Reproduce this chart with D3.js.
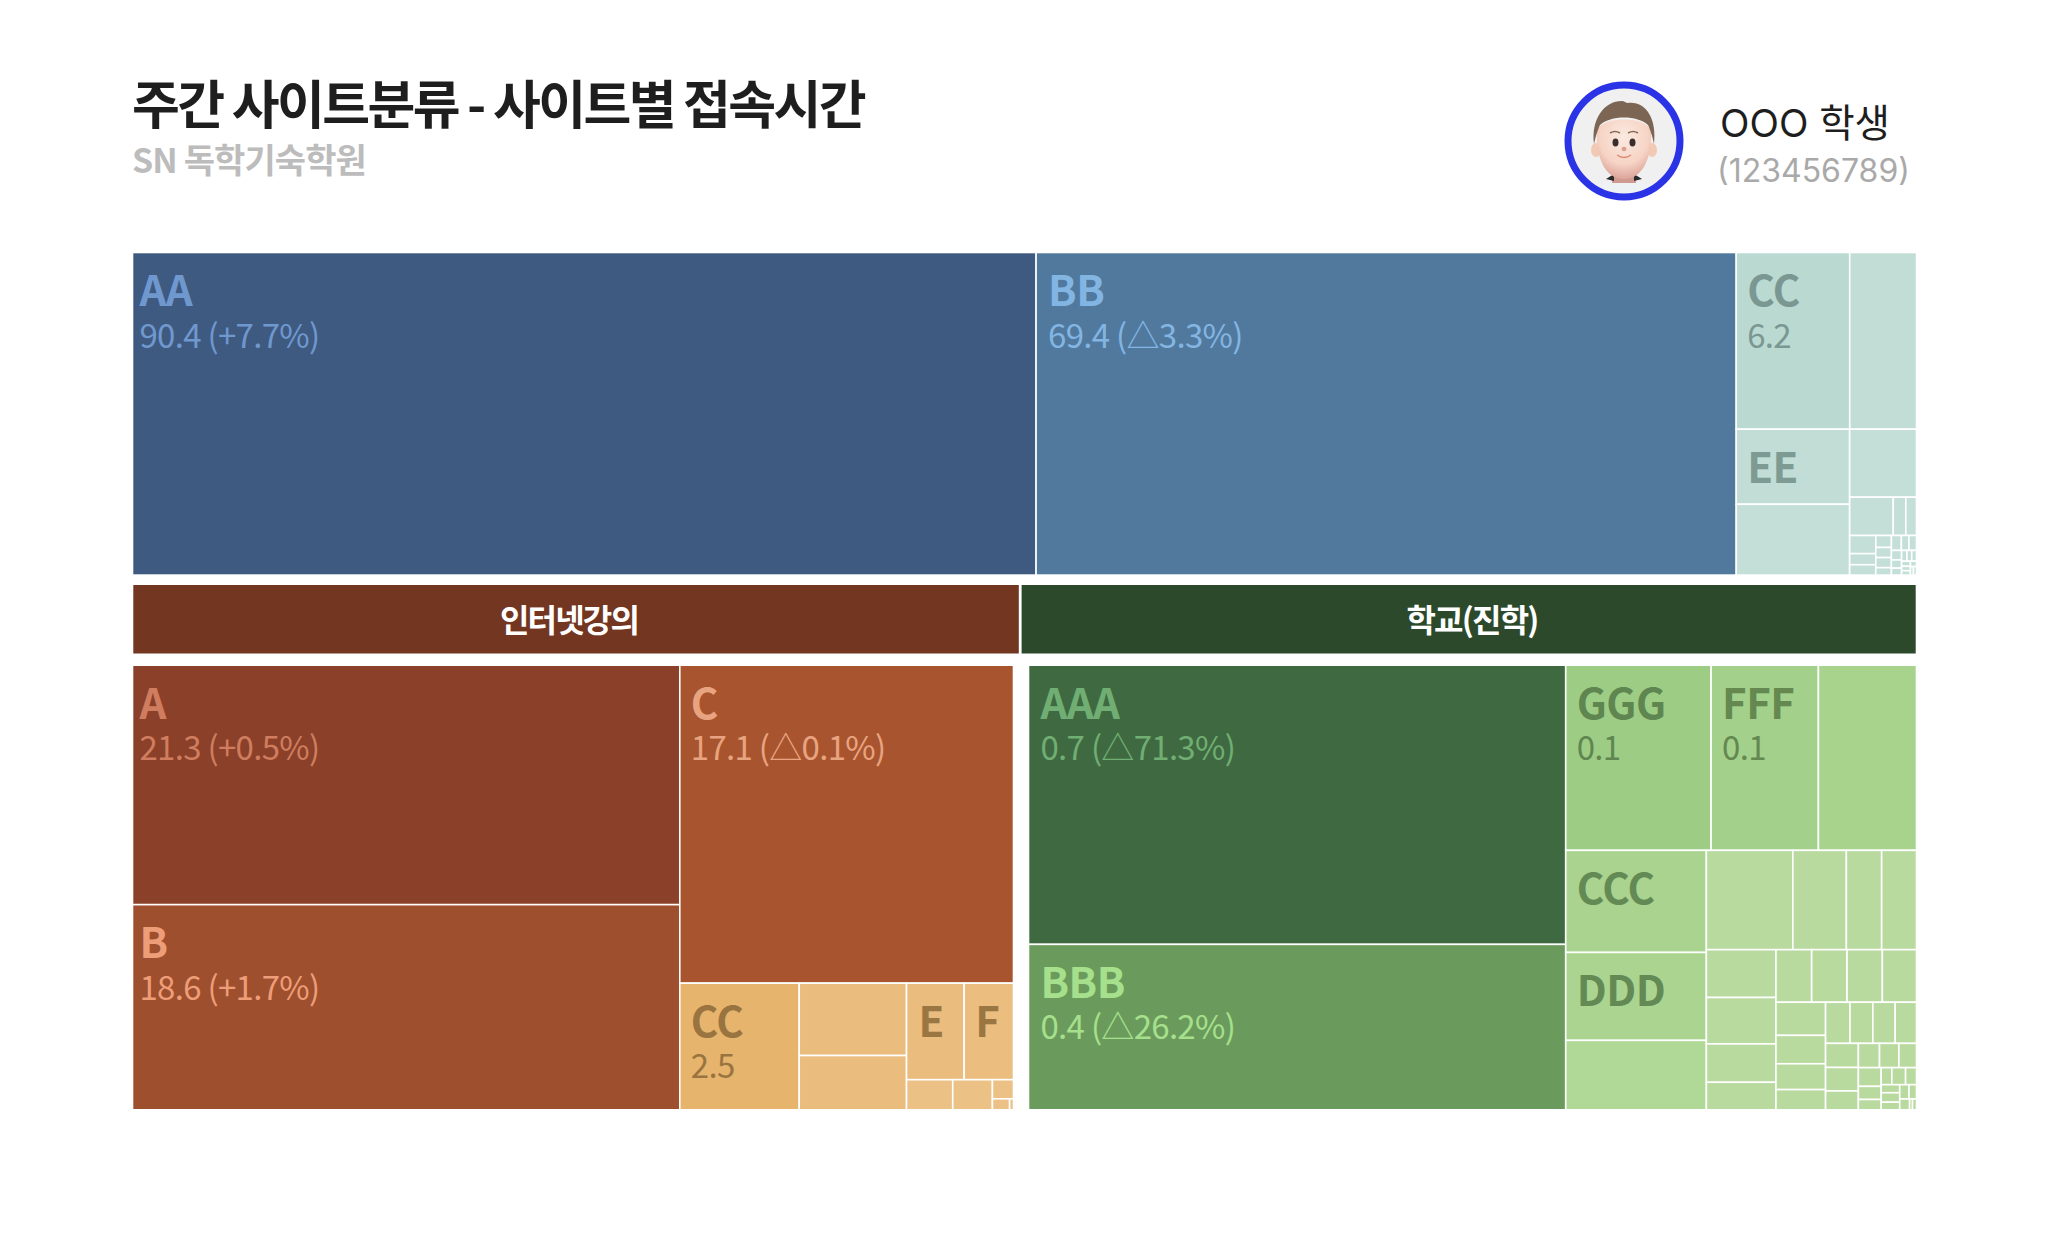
<!DOCTYPE html>
<html>
<head>
<meta charset="utf-8">
<script src="https://cdn.jsdelivr.net/npm/d3@7"></script>
<style>
  html, body { margin: 0; padding: 0; background: #fff; }
  svg { display: block; }
  text { font-family: "Noto Sans CJK KR", "Noto Sans", sans-serif; }
</style>
</head>
<body>
<svg id="chart" width="2048" height="1260"></svg>
<script>
// weekly hours per site, in layout order. sizes are read off the cell areas,
// the printed labels are kept apart because they are rounded in the picture
const topNames = ['AA', 'BB', 'CC', '', 'EE'];
const topLabels = ['90.4 (+7.7%)', '69.4 (△3.3%)', '6.2'];
const topSizes = [90.4, 70.05, 6.22, 3.66, 2.64, 2.49, 1.41, 0.518, 0.149, 0.127,
  0.147, 0.09, 0.084, 0.058, 0.049, 0.049, 0.036, 0.046, 0.035, 0.035,
  0.03, 0.026, 0.022, 0.018, 0.016, 0.016, 0.014, 0.012, 0.012, 0.01, 0.008, 0.008];

const lectureNames = ['A', 'B', 'C', 'CC', '', '', 'E', 'F'];
const lectureLabels = ['21.3 (+0.5%)', '18.6 (+1.7%)', '17.1 (△0.1%)', '2.5'];
const lectureSizes = [21.49, 18.41, 17.4, 2.48, 1.273, 0.955, 0.912, 0.781,
  0.228, 0.196, 0.066, 0.031, 0.007];

const schoolNames = ['AAA', 'BBB', 'GGG', 'FFF', '', 'CCC', 'DDD'];
const schoolLabels = ['0.7 (△71.3%)', '0.4 (△26.2%)', '0.1', '0.1'];
const schoolSizes = [0.702, 0.416, 0.126, 0.093, 0.085, 0.0672, 0.0579, 0.0457,
  0.0402, 0.0249, 0.0164, 0.0162,
  0.01557, 0.0151, 0.0125, 0.00896,
  0.0088, 0.0087, 0.0087, 0.0084,
  0.0077, 0.0066, 0.006, 0.0047,
  0.0047, 0.0044, 0.0043, 0.0041,
  0.0037, 0.0036, 0.0029,
  0.0024, 0.0022, 0.002, 0.002,
  0.0014, 0.0011, 0.00085,
  0.0011, 0.00087, 0.0007,
  0.00082, 0.00066, 0.00062, 0.0005, 0.0005, 0.00015, 0.0002];

const headers = ['인터넷강의', '학교(진학)'];

const GAP = 1.6;

const panels = [
  {
    names: topNames, labels: topLabels, sizes: topSizes,
    x0: 133.3, x1: 1915.7, y0: 253.3, y1: 574.3, pad: [7, 12, 11, 11, 11],
    fills: ['#3f5a81', '#50799d', '#b9d9d1', '#c1ddd5', '#c1ddd5'], tail: '#c3dfd7',
    inks: ['#6f98cf', '#83b5e3', '#7a9791', '', '#7d9a93'],
  },
  {
    names: lectureNames, labels: lectureLabels, sizes: lectureSizes,
    x0: 133.3, x1: 1012.7, y0: 666, y1: 1109, pad: [7, 7, 11, 11, 0, 0, 12, 11],
    fills: ['#8b4029', '#9e4f2d', '#a8552f', '#e6b46c', '#eabc7d', '#eabc7d', '#eabc7d', '#ebbe80'], tail: '#ecc186',
    inks: ['#cf7d5e', '#ee9d79', '#e8a480', '#997440', '', '', '#9a7643', '#9a7643'],
  },
  {
    names: schoolNames, labels: schoolLabels, sizes: schoolSizes,
    x0: 1029.3, x1: 1915.7, y0: 666, y1: 1109, pad: [12, 12, 11, 11, 0, 11, 11],
    fills: ['#3f6a41', '#6a9b5c', '#9dcd84', '#a3d08a', '#a8d38d', '#a9d38e', '#aad490', '#b0d896'], tail: '#b9da9f',
    inks: ['#70ae73', '#a6e08c', '#5f8650', '#64884f', '', '#638a54', '#638a54'],
  },
];

const svg = d3.select('#chart');

// title block
svg.append('text')
  .attr('x', 132).attr('y', 124)
  .attr('font-size', 52).attr('font-weight', 700)
  .attr('letter-spacing', -2.6).attr('fill', '#1e1e1e')
  .text('주간 사이트분류 - 사이트별 접속시간');

svg.append('text')
  .attr('x', 132).attr('y', 173)
  .attr('font-size', 34).attr('font-weight', 700)
  .attr('letter-spacing', -0.9).attr('fill', '#bcbcbc')
  .text('SN 독학기숙학원');

svg.append('text')
  .attr('x', 1720).attr('y', 137)
  .attr('font-size', 38.5).attr('fill', '#1e1e1e')
  .style('font-family', 'Inter, "Noto Sans CJK KR"')
  .text('OOO 학생');

svg.append('text')
  .attr('x', 1717).attr('y', 182)
  .attr('font-size', 32).attr('fill', '#a9a9a9')
  .style('font-family', 'Inter, "Noto Sans CJK KR"')
  .text('(123456789)');

// avatar
const defs = svg.append('defs');
defs.append('clipPath').attr('id', 'avatarClip').append('circle').attr('r', 52);
const skin = defs.append('radialGradient').attr('id', 'skin')
  .attr('cx', '50%').attr('cy', '30%').attr('r', '75%');
skin.append('stop').attr('offset', '0%').attr('stop-color', '#fbe9e0');
skin.append('stop').attr('offset', '60%').attr('stop-color', '#f6d4c5');
skin.append('stop').attr('offset', '100%').attr('stop-color', '#d89a92');

const avatar = svg.append('g').attr('transform', 'translate(1624,141)');
avatar.append('circle').attr('r', 56).attr('fill', '#f0f0f0')
  .attr('stroke', '#2b33e6').attr('stroke-width', 7);
const head = avatar.append('g').attr('clip-path', 'url(#avatarClip)');
head.append('path').attr('fill', '#eef2f5')
  .attr('d', 'M-28,52 C-24,42 -14,38 0,38 C14,38 24,42 28,52 Z');
head.append('rect').attr('x', -12).attr('y', 26).attr('width', 24).attr('height', 16)
  .attr('fill', '#cf9a90');
head.append('path').attr('fill', '#2a2a2a')
  .attr('d', 'M-18,38 L-10,33 L-10,40 Z M18,38 L10,33 L10,40 Z');
head.selectAll('ellipse.ear').data([-28, 28]).join('ellipse')
  .attr('class', 'ear').attr('cx', d => d).attr('cy', 9)
  .attr('rx', 5).attr('ry', 7).attr('fill', '#f2c9b2');
head.append('path').attr('fill', 'url(#skin)')
  .attr('d', 'M-27,-8 C-27,-26 27,-26 27,-8 C28,14 20,38 0,38 C-20,38 -28,14 -27,-8 Z');
head.append('path').attr('fill', '#7c6553')
  .attr('d', 'M-30,3 C-33,-22 -20,-40 -2,-40 C0,-40 2,-38 4,-38 C22,-40 33,-22 30,3 C28,-6 26,-12 24,-16 C14,-26 -14,-26 -24,-16 C-26,-12 -28,-6 -30,3 Z');
head.selectAll('ellipse.eye').data([-8.5, 8.5]).join('ellipse')
  .attr('class', 'eye').attr('cx', d => d).attr('cy', 1.5)
  .attr('rx', 3).attr('ry', 4).attr('fill', '#3a2d2a');
head.selectAll('path.brow').data([-1, 1]).join('path')
  .attr('class', 'brow').attr('fill', 'none').attr('stroke', '#8a6c5a').attr('stroke-width', 1.5)
  .attr('d', d => `M${d * 4},-8 Q${d * 9},-11 ${d * 14},-8`);
head.append('ellipse').attr('cy', 8).attr('rx', 2.5).attr('ry', 2.2).attr('fill', '#dca08f');
head.append('path').attr('fill', 'none').attr('stroke', '#d88a70').attr('stroke-width', 1.4)
  .attr('d', 'M-7,14 Q0,19 7,14');

// group headers
const headerFills = ['#733620', '#2c4a2b'];
const headerExtents = [[133.3, 1018.8], [1021.6, 1915.7]];
const headerRow = svg.append('g').selectAll('g').data(headers).join('g');
headerRow.append('rect')
  .attr('x', (_d, i) => headerExtents[i][0])
  .attr('y', 585)
  .attr('width', (_d, i) => headerExtents[i][1] - headerExtents[i][0])
  .attr('height', 68.5)
  .attr('fill', (_d, i) => headerFills[i]);
headerRow.append('text')
  .attr('x', (_d, i) => (i === 0 ? 569 : 1472))
  .attr('y', 632)
  .attr('text-anchor', 'middle')
  .attr('font-size', 32).attr('font-weight', 700)
  .attr('letter-spacing', -1.8).attr('fill', '#fff')
  .text(d => d);

// treemaps, d3's default squarify keeps the order of the leaves
const drawPanel = (panel) => {
  const leaves = panel.sizes.map((value, i) => ({
    value,
    name: panel.names[i] || '',
    label: panel.labels[i] || '',
    fill: panel.fills[i] || panel.tail,
    ink: panel.inks[i] || '',
    pad: panel.pad[i] || 0,
  }));
  const root = d3.hierarchy({ children: leaves }).sum(d => d.value || 0);
  // grow by half a stroke so the outer stroke does not eat the panel edge
  d3.treemap().size([panel.x1 - panel.x0 + GAP, panel.y1 - panel.y0 + GAP])(root);

  const g = svg.append('g')
    .attr('transform', `translate(${panel.x0 - GAP / 2},${panel.y0 - GAP / 2})`);
  const cell = g.selectAll('g').data(root.leaves()).join('g')
    .attr('transform', d => `translate(${d.x0},${d.y0})`);
  cell.append('rect')
    .attr('width', d => d.x1 - d.x0)
    .attr('height', d => d.y1 - d.y0)
    .attr('fill', d => d.data.fill)
    .attr('stroke', '#fff')
    .attr('stroke-width', GAP);
  cell.filter(d => d.data.name).append('text')
    .attr('x', d => d.data.pad)
    .attr('y', 53.5)
    .attr('font-size', 42).attr('font-weight', 700)
    .attr('letter-spacing', -0.5)
    .attr('fill', d => d.data.ink)
    .text(d => d.data.name);
  cell.filter(d => d.data.label).append('text')
    .attr('x', d => d.data.pad)
    .attr('y', 95)
    .attr('font-size', 33)
    .attr('letter-spacing', -0.7)
    .attr('fill', d => d.data.ink)
    .text(d => d.data.label);
};

panels.forEach(drawPanel);
</script>
</body>
</html>
